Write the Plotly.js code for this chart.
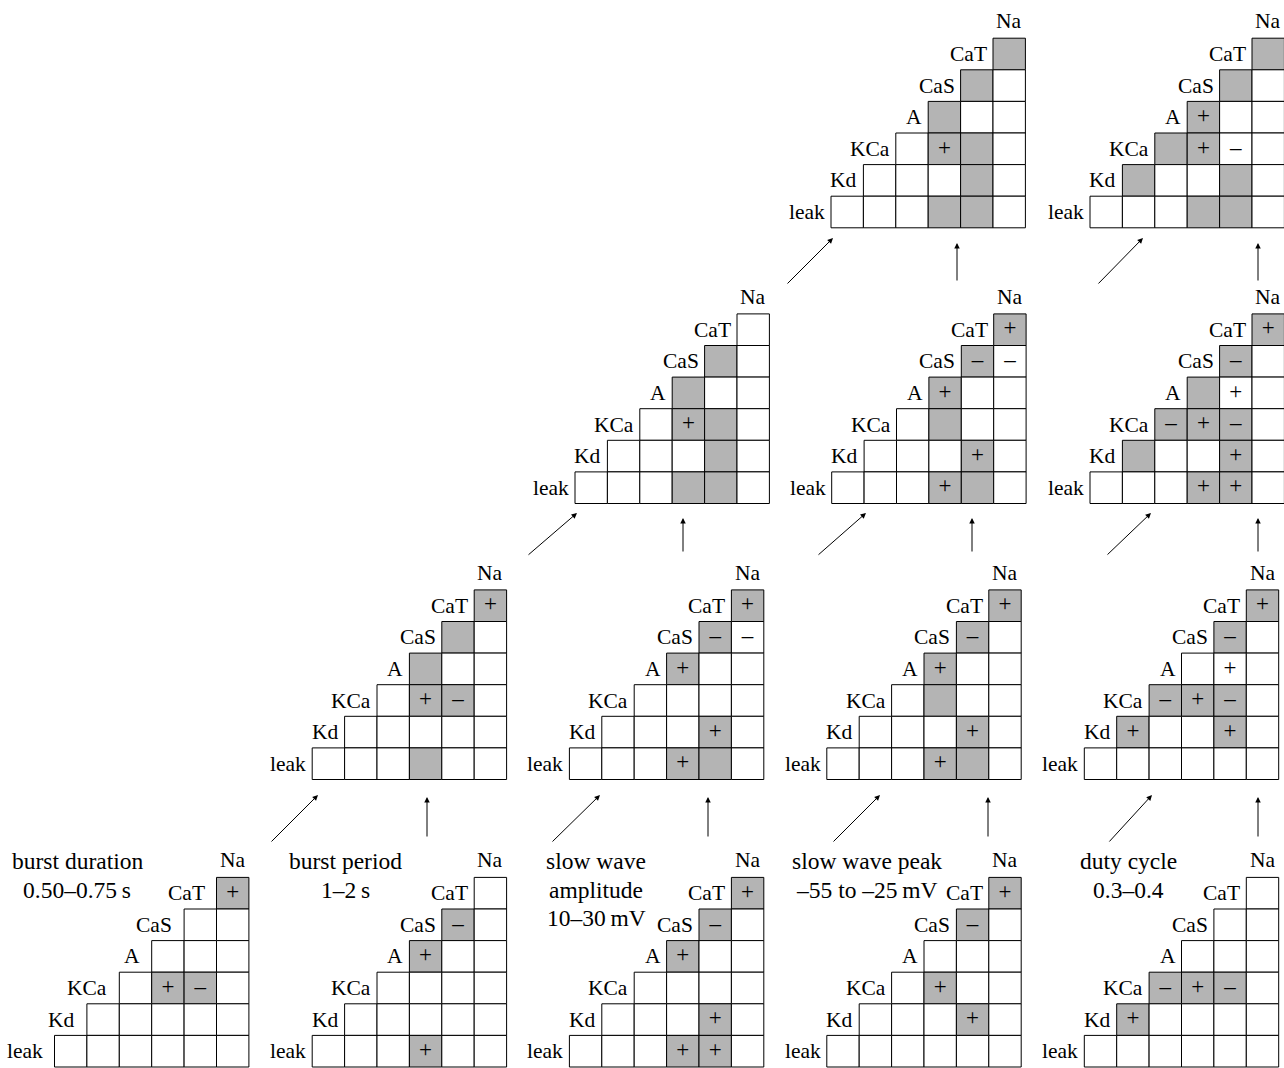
<!DOCTYPE html>
<html>
<head>
<meta charset="utf-8">
<script src="https://cdn.plot.ly/plotly-3.0.1.min.js"></script>
<style>html,body{margin:0;padding:0;background:#fff}</style>
</head>
<body>
<div id="chart" style="width:1284px;height:1068px"></div>
<script>
// Conductance names: matrix rows (top to bottom) and the name above the last column
const rowLabels = ['CaT', 'CaS', 'A', 'KCa', 'Kd', 'leak'];
const topLabel = 'Na';

// Cell codes per row (CaT row first, leak row last; row i holds i+1 cells, right-aligned):
// '.' empty, '#' shaded, '+' / '-' shaded with sign, 'p' / 'm' unshaded with sign
const burstDuration     = ['+', '..', '...', '.+-.', '.....', '......'];
const burstPeriod       = ['.', '-.', '+..', '....', '.....', '...+..'];
const slowWaveAmplitude = ['+', '-.', '+..', '....', '...+.', '...++.'];
const slowWavePeak      = ['+', '-.', '...', '.+..', '...+.', '......'];
const dutyCycle         = ['.', '..', '...', '-+-.', '+....', '......'];

const durPeriod         = ['+', '#.', '#..', '.+-.', '.....', '...#..'];
const periodAmplitude   = ['+', '-m', '+..', '....', '...+.', '...+#.'];
const amplitudePeak     = ['+', '-.', '+..', '.#..', '...+.', '...+#.'];
const peakDuty          = ['+', '-.', '.p.', '-+-.', '+..+.', '......'];

const durPeriodAmp      = ['.', '#.', '#..', '.+#.', '...#.', '...##.'];
const periodAmpPeak     = ['+', '-m', '+..', '.#..', '...+.', '...+#.'];
const ampPeakDuty       = ['+', '-.', '#p.', '-+-.', '#..+.', '...++.'];

const fourFirst         = ['#', '#.', '#..', '.+#.', '...#.', '...##.'];
const fourLast          = ['#', '#.', '+..', '#+m.', '#..#.', '...##.'];

// Titles of the single-property panels
const titleBurstDuration = ['burst duration', '0.50–0.75\u2009s'];
const titleBurstPeriod   = ['burst period', '1–2\u2009s'];
const titleAmplitude     = ['slow wave', 'amplitude', '10–30\u2009mV'];
const titlePeak          = ['slow wave peak', '–55 to –25\u2009mV'];
const titleDuty          = ['duty cycle', '0.3–0.4'];

// ---- geometry ----
const CW = 32.4, CH = 31.6;
const GRAY = '#b4b4b4';
const FONT = 'Liberation Serif, Times New Roman, serif';
const LABEL_SIZE = 21.5;
const TITLE_SIZE = 23.5;
const SIGN_SIZE = 23;

const panels = [
  {cells: burstDuration,     x0: 54.5,   yb: 1067,  title: titleBurstDuration, tx: 77, gap: 10},
  {cells: burstPeriod,       x0: 312.2,  yb: 1067,  title: titleBurstPeriod,   tx: 345},
  {cells: slowWaveAmplitude, x0: 569.4,  yb: 1067,  title: titleAmplitude,     tx: 596},
  {cells: slowWavePeak,      x0: 826.8,  yb: 1067,  title: titlePeak,          tx: 867},
  {cells: dutyCycle,         x0: 1084.3, yb: 1067,  title: titleDuty,          tx: 1128},
  {cells: durPeriod,         x0: 312.2,  yb: 779.5},
  {cells: periodAmplitude,   x0: 569.4,  yb: 779.5},
  {cells: amplitudePeak,     x0: 826.8,  yb: 779.5},
  {cells: peakDuty,          x0: 1084.3, yb: 779.5},
  {cells: durPeriodAmp,      x0: 575,    yb: 503.5},
  {cells: periodAmpPeak,     x0: 831.7,  yb: 503.5},
  {cells: ampPeakDuty,       x0: 1090,   yb: 503.5},
  {cells: fourFirst,         x0: 831,    yb: 227.8},
  {cells: fourLast,          x0: 1090,   yb: 227.8}
];

// arrows: [tailX, tailY, tipX, tipY]
const arrows = [
  [270, 843, 318, 795], [427, 838, 427, 797],
  [551, 843, 600, 795], [708, 838, 708, 797],
  [832, 843, 880, 795], [988, 838, 988, 797],
  [1108, 843, 1152, 795], [1258, 838, 1258, 797],
  [527, 556, 577, 513], [683, 553, 683, 518],
  [817, 556, 866, 513], [972, 553, 972, 518],
  [1106, 556, 1151, 513], [1258, 553, 1258, 518],
  [786, 285, 833, 238], [957, 282, 957, 243],
  [1097, 285, 1143, 238], [1258, 282, 1258, 243]
];

const shapes = [];
const annotations = [];
const signX = [], signY = [], signT = [];

panels.forEach(p => {
  const gap = p.gap || 4;
  p.cells.forEach((row, r) => {
    const firstCol = 5 - r;
    for (let k = 0; k <= r; k++) {
      const code = row[k];
      const c = firstCol + k;
      const xl = p.x0 + c * CW;
      const yt = p.yb - (6 - r) * CH;
      const shaded = '#+-'.indexOf(code) >= 0;
      shapes.push({
        type: 'rect', xref: 'x', yref: 'y',
        x0: xl, x1: xl + CW, y0: yt, y1: yt + CH,
        fillcolor: shaded ? GRAY : '#ffffff',
        line: {color: '#000', width: 1}, layer: 'below'
      });
      if (code === '+' || code === 'p' || code === '-' || code === 'm') {
        signX.push(xl + CW / 2);
        signY.push(yt + CH / 2);
        signT.push(code === '+' || code === 'p' ? '+' : '–');
      }
    }
    // row label, just left of the row's first cell
    annotations.push({
      x: p.x0 + firstCol * CW - gap, y: p.yb - (5.5 - r) * CH,
      xref: 'x', yref: 'y', xanchor: 'right', yanchor: 'middle',
      text: rowLabels[r], showarrow: false,
      font: {family: FONT, size: LABEL_SIZE, color: '#000'}
    });
  });
  annotations.push({
    x: p.x0 + 5.5 * CW, y: p.yb - 6 * CH - 17,
    xref: 'x', yref: 'y', xanchor: 'center', yanchor: 'middle',
    text: topLabel, showarrow: false,
    font: {family: FONT, size: LABEL_SIZE, color: '#000'}
  });
  if (p.title) {
    p.title.forEach((line, i) => {
      annotations.push({
        x: p.tx, y: 861 + i * 28.5,
        xref: 'x', yref: 'y', xanchor: 'center', yanchor: 'middle',
        text: line, showarrow: false,
        font: {family: FONT, size: TITLE_SIZE, color: '#000'}
      });
    });
  }
});

arrows.forEach(a => {
  annotations.push({
    x: a[2], y: a[3], ax: a[0], ay: a[1],
    xref: 'x', yref: 'y', axref: 'x', ayref: 'y',
    text: '', showarrow: true, arrowhead: 2, arrowsize: 1.1,
    arrowwidth: 1, arrowcolor: '#000', standoff: 0, startstandoff: 0
  });
});

const signTrace = {
  type: 'scatter', mode: 'text',
  x: signX, y: signY, text: signT,
  textposition: 'middle center',
  textfont: {family: FONT, size: SIGN_SIZE, color: '#000'},
  hoverinfo: 'skip', showlegend: false, cliponaxis: false
};

const layout = {
  width: 1284, height: 1068,
  margin: {l: 0, r: 0, t: 0, b: 0},
  paper_bgcolor: '#fff', plot_bgcolor: 'rgba(0,0,0,0)',
  xaxis: {range: [0, 1284], visible: false, fixedrange: true},
  yaxis: {range: [1068, 0], visible: false, fixedrange: true},
  shapes: shapes,
  annotations: annotations,
  showlegend: false
};

Plotly.newPlot('chart', [signTrace], layout, {displayModeBar: false, staticPlot: true});
</script>
</body>
</html>
